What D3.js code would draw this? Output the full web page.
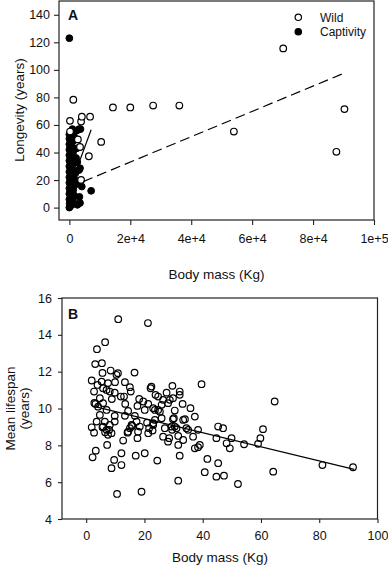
<!DOCTYPE html>
<html><head><meta charset="utf-8">
<script src="https://cdn.jsdelivr.net/npm/d3@7"></script>
<style>
html,body{margin:0;padding:0;background:#fff;}
text{font-family:"Liberation Sans",Arial,Helvetica,sans-serif;fill:#111;}
</style></head>
<body>
<svg id="chart" width="388" height="568"></svg>
<script>
// ---------- Panel A data ----------
const aXTicks = [0, 20000, 40000, 60000, 80000, 100000];
const aXTickLabels = ["0", "2e+4", "4e+4", "6e+4", "8e+4", "1e+5"];
const aYTicks = [0, 20, 40, 60, 80, 100, 120, 140];
// [body mass (kg), longevity (years)]
const captivityPoints = [
  [0,0],[300,1],[800,2],[2640,2],[100,3],[3500,3.4],[600,4],[1200,5],[0,6],[400,7],[3300,7.8],[900,8],
  [1500,9],[0,10],[200,11],[700,12],[7150,12.2],[1300,13],[0,14],[500,15],[4080,15.3],[1000,16],
  [2200,17],[0,18],[300,19],[900,20],[1600,21],[0,22],[500,23],[1100,24],[2000,25],[0,26],[400,27],
  [3200,27.3],[1000,28],[3500,28.6],[0,30],[600,31],[1400,32],[2600,33],[0,34],[300,35],[900,36],
  [2200,36],[0,38],[500,39],[1200,40],[0,42],[2400,43],[300,43],[800,44],[0,46],[400,47],[1100,48],
  [0,50],[600,51],[1500,52],[0,53],[400,55],[2500,56],[3650,57],[3200,57],[1000,57],[0,123]
];
const wildPoints = [
  [230,55.2],[200,63],[3850,62.5],[4100,66],[6800,66],[1300,78.3],[2800,49.5],[3500,44],[10450,47.7],
  [6400,37.3],[3850,20.1],[14300,72.7],[20000,72.7],[27500,74.1],[36100,74.1],[54000,55.2],
  [70200,115.6],[90300,71.5],[87650,40.5]
];
const wildFit = [[0, 14.7], [89750, 97.2]];
const captivityFit = [[0, 13.6], [7150, 56.5]];
const legendItems = ["Wild", "Captivity"];

// ---------- Panel B data ----------
const bXTicks = [0, 20, 40, 60, 80, 100];
const bYTicks = [4, 6, 8, 10, 12, 14, 16];
// [body mass (kg), mean lifespan (years)]
const lifespanPoints = [
  [11.0,14.85],[21.2,14.64],[6.5,13.60],[3.7,13.22],[3.1,12.41],[5.4,12.46],[5.6,11.93],[8.4,12.06],
  [10.4,11.83],[10.9,11.92],[16.6,11.95],[1.9,11.52],[5.3,11.46],[3.9,11.28],[7.5,11.38],[9.9,11.43],
  [13.3,11.43],[2.7,10.92],[5.8,11.10],[7.0,11.01],[8.1,10.92],[9.8,10.86],[15.0,11.16],[15.3,10.92],
  [22.1,11.10],[23.8,10.74],[4.7,10.56],[8.8,10.51],[11.9,10.65],[13.0,10.65],[13.4,10.25],[18.2,10.52],
  [19.6,10.38],[21.3,10.25],[3.2,10.25],[2.8,10.30],[4.1,10.10],[7.0,9.92],[5.8,10.29],[17.6,10.14],
  [20.1,9.92],[23.6,9.92],[14.4,9.87],[4.7,9.65],[9.8,9.60],[13.3,9.60],[16.7,9.60],[39.6,11.32],
  [29.6,11.23],[32.1,10.92],[32.1,10.74],[27.6,10.86],[24.7,10.65],[26.4,10.47],[28.7,10.47],[29.8,10.56],
  [28.1,10.29],[25.9,10.20],[33.1,10.25],[35.8,10.02],[23.0,10.02],[24.7,9.92],[25.3,9.83],[30.4,9.89],
  [37.3,9.56],[33.9,9.42],[30.1,9.47],[22.4,11.19],[45.3,9.02],[47.0,8.93],[60.7,8.88],[64.7,10.38],
  [59.8,8.39],[59.0,8.08],[64.2,6.57],[81.1,6.93],[91.6,6.81],[1.9,8.98],[2.7,8.69],[3.6,9.29],
  [5.8,9.02],[6.4,9.29],[7.0,8.84],[8.1,9.11],[8.7,8.66],[7.5,8.57],[9.8,9.29],[14.4,8.74],
  [15.0,8.93],[15.6,9.11],[17.3,9.29],[17.8,8.74],[17.6,8.39],[18.4,9.02],[20.9,9.23],[21.3,8.66],
  [21.6,8.93],[23.0,9.11],[23.6,9.38],[12.7,8.26],[7.2,8.02],[3.3,7.71],[2.2,7.35],[12.1,7.57],
  [9.6,7.21],[12.1,6.93],[8.7,6.76],[17.0,7.44],[20.1,7.57],[24.4,7.17],[10.6,5.36],[19.0,5.48],
  [23.0,9.20],[25.9,9.47],[29.8,9.42],[33.3,9.38],[27.0,8.93],[29.3,9.02],[31.0,8.93],[34.4,8.93],
  [35.0,8.84],[38.4,8.84],[31.6,8.51],[36.7,8.47],[26.4,8.47],[28.1,8.20],[33.3,8.29],[31.6,8.02],
  [44.7,8.39],[48.2,8.11],[49.9,8.39],[49.3,7.84],[54.2,8.06],[39.0,8.02],[37.3,7.84],[38.4,7.90],
  [32.1,7.44],[41.6,7.26],[45.3,7.03],[40.7,6.54],[44.7,6.30],[47.3,6.35],[52.1,5.90],[31.6,6.08],
  [5.6,8.98],[6.5,8.71],[7.9,8.84],[14.2,8.69],[15.8,9.05],[22.8,8.80],[28.5,8.39],[29.5,8.84],[30.4,9.02]
];
const lifespanFit = [[3, 10.1], [92, 6.7]];

// ---------- Drawing ----------
const svg = d3.select("#chart");
svg.append("rect").attr("width",388).attr("height",568).attr("fill","#fff");

function styleAxis(g){
  g.select(".domain").remove();
  g.selectAll(".tick line").attr("stroke","#222").attr("stroke-width",1.1);
  g.selectAll(".tick text").attr("font-size","12.5px").attr("fill","#111")
    .attr("font-family",'"Liberation Sans",Arial,sans-serif');
}

// Panel A
const xA = d3.scaleLinear().domain([-3400, 100000]).range([59, 374]);
const yA = d3.scaleLinear().domain([-9, 150]).range([220, 1]);
const gA = svg.append("g");

gA.append("g").attr("transform","translate(59,0)")
  .call(d3.axisLeft(yA).tickValues(aYTicks).tickSize(5).tickPadding(4).tickSizeOuter(0))
  .call(styleAxis);
gA.append("g").attr("transform","translate(0,220)")
  .call(d3.axisBottom(xA).tickValues(aXTicks).tickFormat((d,i)=>aXTickLabels[i])
        .tickSize(5).tickPadding(9).tickSizeOuter(0))
  .call(styleAxis);

const lineA = d3.line().x(d=>xA(d[0])).y(d=>yA(d[1]));

gA.append("g").selectAll("circle").data(captivityPoints).join("circle")
  .attr("cx",d=>xA(d[0])).attr("cy",d=>yA(d[1])).attr("r",3.4)
  .attr("fill","#000").attr("stroke","#000").attr("stroke-width",1);
gA.append("g").selectAll("circle").data(wildPoints).join("circle")
  .attr("cx",d=>xA(d[0])).attr("cy",d=>yA(d[1])).attr("r",3.3)
  .attr("fill","#fff").attr("stroke","#000").attr("stroke-width",1.2);

gA.append("path").datum(wildFit).attr("d",lineA).attr("fill","none")
  .attr("stroke","#000").attr("stroke-width",1.2).attr("stroke-dasharray","10,5");
gA.append("path").datum(captivityFit).attr("d",lineA).attr("fill","none")
  .attr("stroke","#000").attr("stroke-width",1.2);

gA.append("rect").attr("x",59).attr("y",1).attr("width",315).attr("height",219)
  .attr("fill","none").attr("stroke","#222").attr("stroke-width",1.2);

gA.append("text").attr("x",68).attr("y",20).attr("font-size","14px").attr("font-weight","bold").text("A");

const legA = gA.append("g");
legendItems.forEach((name,i)=>{
  const cy = 17.3 + i*14.4;
  legA.append("circle").attr("cx",298.3).attr("cy",cy).attr("r",3.2)
    .attr("fill", i===0 ? "#fff" : "#000").attr("stroke","#000").attr("stroke-width",1.2);
  legA.append("text").attr("x",320).attr("y",cy+4.2).attr("font-size","12px").text(name);
});

gA.append("text").attr("x",216.5).attr("y",279).attr("text-anchor","middle")
  .attr("font-size","13.5px").text("Body mass (Kg)");
gA.append("text").attr("transform","translate(24,110) rotate(-90)").attr("text-anchor","middle")
  .attr("font-size","13.5px").text("Longevity (years)");

// Panel B
const xB = d3.scaleLinear().domain([-8.3, 100]).range([62, 377.5]);
const yB = d3.scaleLinear().domain([4, 16]).range([519, 298]);
const gB = svg.append("g");

gB.append("g").attr("transform","translate(62,0)")
  .call(d3.axisLeft(yB).tickValues(bYTicks).tickSize(4).tickPadding(6).tickSizeOuter(0))
  .call(styleAxis);
gB.append("g").attr("transform","translate(0,519)")
  .call(d3.axisBottom(xB).tickValues(bXTicks).tickFormat(d3.format("d"))
        .tickSize(4).tickPadding(8).tickSizeOuter(0))
  .call(styleAxis);

gB.append("g").selectAll("circle").data(lifespanPoints).join("circle")
  .attr("cx",d=>xB(d[0])).attr("cy",d=>yB(d[1])).attr("r",3.3)
  .attr("fill","none").attr("stroke","#000").attr("stroke-width",1.2);

const lineB = d3.line().x(d=>xB(d[0])).y(d=>yB(d[1]));
gB.append("path").datum(lifespanFit).attr("d",lineB).attr("fill","none")
  .attr("stroke","#000").attr("stroke-width",1.3);

gB.append("rect").attr("x",62).attr("y",298).attr("width",315.5).attr("height",221)
  .attr("fill","none").attr("stroke","#222").attr("stroke-width",1.2);

gB.append("text").attr("x",68).attr("y",319).attr("font-size","14px").attr("font-weight","bold").text("B");

gB.append("text").attr("x",220).attr("y",562).attr("text-anchor","middle")
  .attr("font-size","13.5px").text("Body mass (Kg)");
gB.append("text").attr("transform","translate(15,408.5) rotate(-90)").attr("text-anchor","middle")
  .attr("font-size","13.5px").text("Mean lifespan");
gB.append("text").attr("transform","translate(28.5,408.5) rotate(-90)").attr("text-anchor","middle")
  .attr("font-size","13.5px").text("(years)");
</script>
</body></html>
